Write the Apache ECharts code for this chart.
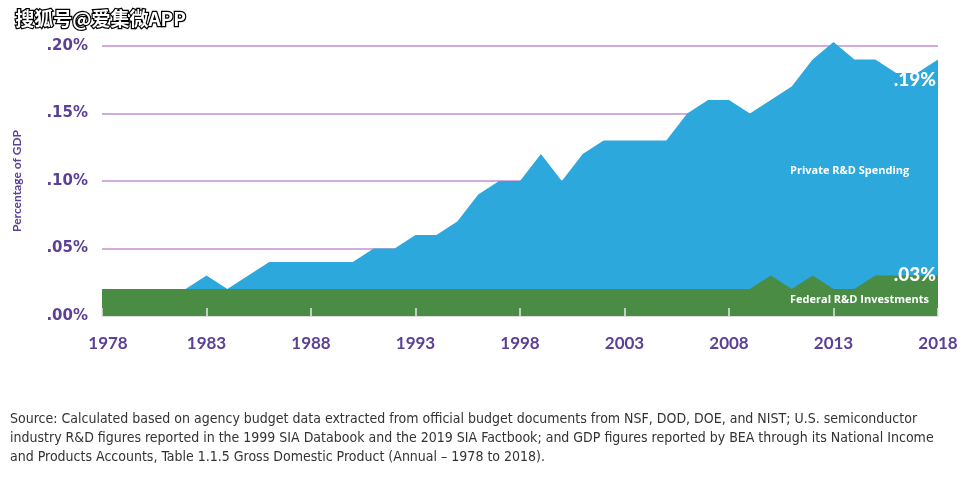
<!DOCTYPE html>
<html><head><meta charset="utf-8">
<script src="https://cdn.jsdelivr.net/npm/echarts@6/dist/echarts.min.js"></script>
<style>html,body{margin:0;padding:0;background:#fff}#c{width:964px;height:485px}</style>
</head><body><div id="c"></div>
<script>
const years = [1978,1979,1980,1981,1982,1983,1984,1985,1986,1987,1988,1989,1990,1991,1992,1993,1994,1995,1996,1997,1998,1999,2000,2001,2002,2003,2004,2005,2006,2007,2008,2009,2010,2011,2012,2013,2014,2015,2016,2017,2018];
const privateRD = [0.02,0.02,0.02,0.02,0.02,0.03,0.02,0.03,0.04,0.04,0.04,0.04,0.04,0.05,0.05,0.06,0.06,0.07,0.09,0.10,0.10,0.12,0.10,0.12,0.13,0.13,0.13,0.13,0.15,0.16,0.16,0.15,0.16,0.17,0.19,0.203,0.19,0.19,0.18,0.18,0.19];
const federalRD = [0.02,0.02,0.02,0.02,0.02,0.02,0.02,0.02,0.02,0.02,0.02,0.02,0.02,0.02,0.02,0.02,0.02,0.02,0.02,0.02,0.02,0.02,0.02,0.02,0.02,0.02,0.02,0.02,0.02,0.02,0.02,0.02,0.03,0.02,0.03,0.02,0.02,0.03,0.03,0.03,0.03];
const yTicks = [0, 0.05, 0.10, 0.15, 0.20];
const xTicks = [1978,1983,1988,1993,1998,2003,2008,2013,2018];
const sourceLines = [
 'Source: Calculated based on agency budget data extracted from official budget documents from NSF, DOD, DOE, and NIST; U.S. semiconductor',
 'industry R&D figures reported in the 1999 SIA Databook and the 2019 SIA Factbook; and GDP figures reported by BEA through its National Income',
 'and Products Accounts, Table 1.1.5 Gross Domestic Product (Annual – 1978 to 2018).'
];
const purple = '#5b3f98';
const chart = echarts.init(document.getElementById('c'));
chart.setOption({
  animation:false,
  grid:{left:102,right:26,top:46,bottom:169},
  xAxis:{type:'value',min:1978,max:2018,interval:5,z:5,
    axisLine:{show:true,lineStyle:{color:'#dddddd',width:1}},
    axisTick:{show:true,inside:true,length:8,lineStyle:{color:'#e6e6e6',width:1.5}},
    splitLine:{show:false},
    axisLabel:{color:purple,fontWeight:'bold',fontSize:17,fontFamily:'Lato',margin:19,
      formatter:v=>{if(!xTicks.includes(v))return '';return v===xTicks[0]?'{f|'+v+'}':String(v);},
      rich:{f:{color:purple,fontWeight:'bold',fontSize:17,fontFamily:'Lato',padding:[0,0,0,12]}}}},
  yAxis:{type:'value',min:0,max:0.20,interval:0.05,
    name:'Percentage of GDP',nameLocation:'middle',nameGap:79,
    nameTextStyle:{color:purple,fontWeight:'bold',fontSize:12,fontFamily:'Lato'},
    axisLine:{show:false},axisTick:{show:false},
    splitLine:{lineStyle:{color:'#c48fd0',width:1.5}},
    axisLabel:{color:purple,fontWeight:'bold',fontSize:15,fontFamily:'DejaVu Sans',margin:14,
      formatter:v=>{const t=yTicks.find(y=>Math.abs(y-v)<1e-9);return t===undefined?'':t.toFixed(2).replace(/^0/,'')+'%';}}},
  series:[
    {name:'Private R&D Spending',type:'line',data:years.map((y,i)=>[y,privateRD[i]]),
     showSymbol:false,clip:false,lineStyle:{width:0},areaStyle:{color:'#2ca8dd',opacity:1},z:2},
    {name:'Federal R&D Investments',type:'line',data:years.map((y,i)=>[y,federalRD[i]]),
     showSymbol:false,lineStyle:{width:0},areaStyle:{color:'#4b8c45',opacity:1},z:3}
  ],
  graphic:[
    {type:'text',z:100,left:14,top:8,style:{text:'搜狐号@爱集微APP',fill:'#fff',stroke:'#000',lineWidth:2.5,fontSize:19,fontWeight:'bold',fontFamily:'Noto Sans CJK SC'}},
    {type:'text',z:100,right:28,top:70,style:{text:'.19%',fill:'#fff',fontSize:19,fontWeight:900,fontFamily:'Lato'}},
    {type:'text',z:100,left:790,top:165,style:{text:'Private R&D Spending',fill:'#fff',fontSize:11,fontWeight:'bold',fontFamily:'Open Sans'}},
    {type:'text',z:100,right:28,top:265,style:{text:'.03%',fill:'#fff',fontSize:19,fontWeight:900,fontFamily:'Lato'}},
    {type:'text',z:100,left:790,top:294,style:{text:'Federal R&D Investments',fill:'#fff',fontSize:11,fontWeight:'bold',fontFamily:'Open Sans'}},
    {type:'text',z:100,left:10,top:410,style:{text:sourceLines.join('\n'),fill:'#333',lineHeight:19,fontSize:14,fontFamily:'DejaVu Sans Condensed, DejaVu Sans'}}
  ]
});
</script></body></html>
